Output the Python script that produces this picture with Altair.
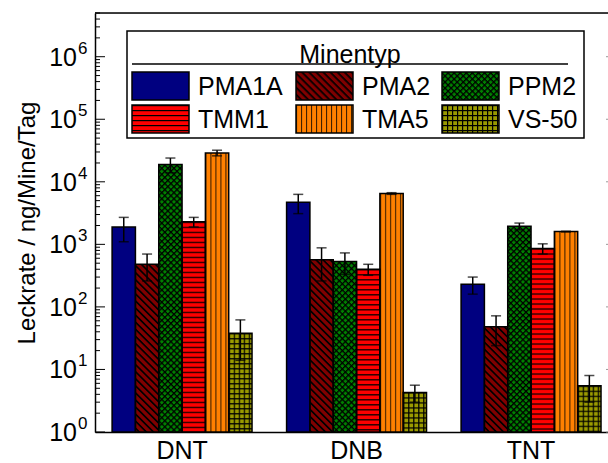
import base64
import altair as alt
import pandas as pd

# ---------------- data ----------------
CATEGORIES = ["DNT", "DNB", "TNT"]
TYPES = ["PMA1A", "PMA2", "PPM2", "TMM1", "TMA5", "VS-50"]

PMA1A = [1900, 4700, 230]
PMA2 = [480, 570, 48]
PPM2 = [19000, 530, 1950]
TMM1 = [2300, 400, 860]
TMA5 = [29000, 6500, 1600]
VS50 = [38, 4.3, 5.5]

PMA1A_ERR = [800, 1600, 70]
PMA2_ERR = [220, 310, 24]
PPM2_ERR = [5000, 200, 240]
TMM1_ERR = [400, 80, 160]
TMA5_ERR = [3000, 200, 20]
VS50_ERR = [24, 1.3, 2.5]

DECADES = [1, 10, 100, 1000, 10000, 100000, 1000000]
EXPONENTS = ["0", "1", "2", "3", "4", "5", "6"]
MINOR_TICKS = [m * d for d in DECADES for m in range(2, 10) if m * d <= 5e6]

VALUES = [PMA1A, PMA2, PPM2, TMM1, TMA5, VS50]
ERRORS = [PMA1A_ERR, PMA2_ERR, PPM2_ERR, TMM1_ERR, TMA5_ERR, VS50_ERR]

# ---------------- styles ----------------
FONT = "Liberation Sans"
BASE_COLORS = ["#000080", "#800000", "#008000", "#ff0000", "#ff8000", "#9a9a00"]


def pattern(base, w, h, rot, content):
    svg = (
        '<svg xmlns="http://www.w3.org/2000/svg" width="100%" height="100%">'
        f'<defs><pattern id="p" patternUnits="userSpaceOnUse" width="{w}" height="{h}" '
        f'patternTransform="rotate({rot})">{content}</pattern></defs>'
        f'<rect width="100%" height="100%" fill="{base}"/>'
        '<rect width="100%" height="100%" fill="url(#p)"/></svg>'
    )
    return "data:image/svg+xml;base64," + base64.b64encode(svg.encode()).decode()


PATTERNS = {
    "PMA1A": pattern("#000080", 10, 10, 0, ""),
    "PMA2": pattern("#800000", 5, 5, 45, '<rect x="0" y="0" width="5" height="1.7" fill="#000"/>'),
    "PPM2": pattern("#008000", 4.3, 4.3, 45,
                    '<rect x="0" y="0" width="4.3" height="1.3" fill="#000"/>'
                    '<rect x="0" y="0" width="1.3" height="4.3" fill="#000"/>'),
    "TMM1": pattern("#ff0000", 10, 5, 0, '<rect x="0" y="0" width="10" height="1.2" fill="#000"/>'),
    "TMA5": pattern("#ff8000", 5, 10, 0, '<rect x="0" y="0" width="1.1" height="10" fill="#000" fill-opacity="0.75"/>'),
    "VS-50": pattern("#9a9a00", 5, 5, 0,
                     '<rect x="0" y="0" width="5" height="1.2" fill="#000"/>'
                     '<rect x="0" y="0" width="1.2" height="5" fill="#000"/>'),
}

W, H = 513, 419

rows = []
for ti, t in enumerate(TYPES):
    for ci, c in enumerate(CATEGORIES):
        v, e = VALUES[ti][ci], ERRORS[ti][ci]
        rows.append({"cat": c, "type": t, "value": v, "lo": v - e, "hi": v + e,
                     "url": PATTERNS[t]})
df = pd.DataFrame(rows)

x_axis = alt.Axis(ticks=False, labelFontSize=25, labelFont=FONT, labelColor="black",
                  labelPadding=6, domainColor="black", domainWidth=1.5, labelAngle=0,
                  grid=False, title=None)
x_scale = alt.Scale(paddingInner=0.198, paddingOuter=0.069, align=0.71)
x_enc = alt.X("cat:N", sort=CATEGORIES, title=None, scale=x_scale, axis=x_axis)
xoff = alt.XOffset("type:N", sort=TYPES, scale=alt.Scale(paddingInner=0, paddingOuter=0))
yscale = alt.Scale(type="log", domain=[1, 5e6])
YTITLE = "Leckrate / ng/Mine/Tag"
y_axis = alt.Axis(ticks=False, labels=False, domainColor="black", domainWidth=1.5,
                  grid=False, titleFont=FONT, titleFontSize=24, titleFontWeight="normal",
                  titleColor="black", titleAngle=270, titleX=-68, titleY=H / 2,
                  titleAlign="center", titleBaseline="middle")


def yq(field):
    return alt.Y(f"{field}:Q", scale=yscale, title=YTITLE, axis=y_axis)


bars_base = alt.Chart(df).mark_bar().encode(
    x=x_enc, xOffset=xoff, y=yq("value"), y2=alt.datum(1),
    color=alt.Color("type:N", scale=alt.Scale(domain=TYPES, range=BASE_COLORS), legend=None),
)
bars_img = alt.Chart(df).mark_image(aspect=False).encode(
    x=x_enc, xOffset=xoff, y=yq("value"), y2=alt.datum(1), url="url:N",
)
bars_outline = alt.Chart(df).mark_bar(fillOpacity=0, stroke="black", strokeWidth=1.5).encode(
    x=x_enc, xOffset=xoff, y=yq("value"), y2=alt.datum(1),
)
err_rule = alt.Chart(df).mark_rule(color="black", strokeWidth=1.5).encode(
    x=x_enc, xOffset=xoff, y=yq("lo"), y2="hi:Q",
)
cap_lo = alt.Chart(df).mark_tick(color="black", thickness=1.5, size=10, orient="horizontal").encode(
    x=x_enc, xOffset=xoff, y=yq("lo"),
)
cap_hi = alt.Chart(df).mark_tick(color="black", thickness=1.5, size=10, orient="horizontal").encode(
    x=x_enc, xOffset=xoff, y=yq("hi"),
)

# axis ticks (inward) and labels 10^n
dec_df = pd.DataFrame({"v": DECADES, "exp": EXPONENTS})
minor_df = pd.DataFrame({"v": MINOR_TICKS})
major_ticks = alt.Chart(dec_df).mark_rule(color="black", strokeWidth=1).encode(
    y=yq("v"), x=alt.value(0), x2=alt.value(10))
minor_ticks = alt.Chart(minor_df).mark_rule(color="black", strokeWidth=1).encode(
    y=yq("v"), x=alt.value(0), x2=alt.value(5))
right_ticks = alt.Chart(dec_df).mark_rule(color="#999999", strokeWidth=1).encode(
    y=yq("v"), x=alt.value(W - 2), x2=alt.value(W))
ten_labels = alt.Chart(dec_df).mark_text(font=FONT, fontSize=25, align="right", baseline="middle",
                                         dy=1, color="black").encode(
    y=yq("v"), x=alt.value(-18), text=alt.value("10"))
exp_labels = alt.Chart(dec_df).mark_text(font=FONT, fontSize=17, align="left", baseline="alphabetic",
                                         dy=-3, color="black").encode(
    y=yq("v"), x=alt.value(-17), text="exp:N")

one = pd.DataFrame({"a": [0]})
top_line = alt.Chart(one).mark_rule(color="black", strokeWidth=1.5).encode(
    x=alt.value(0), x2=alt.value(W), y=alt.value(0))

# ---------------- legend ----------------
LEG_COL_X = [37, 201, 347]
LEG_ROW_Y = [59, 92]
SW_W, SW_H = 57, 28
leg_rows = []
for i, t in enumerate(TYPES):
    col, row = i % 3, i // 3
    lx = LEG_COL_X[col]
    ly = LEG_ROW_Y[row]
    leg_rows.append({"type": t, "lx": lx, "lx2": lx + SW_W, "ly": ly, "ly2": ly + SW_H,
                     "tx": lx + 66, "ty": ly + SW_H / 2, "url": PATTERNS[t]})
leg_df = pd.DataFrame(leg_rows)

leg_box = alt.Chart(one).mark_rect(fill="white", stroke="black", strokeWidth=1.5).encode(
    x=alt.value(32), x2=alt.value(489), y=alt.value(18), y2=alt.value(125))
leg_title = alt.Chart(one).mark_text(font=FONT, fontSize=25, align="center", baseline="middle",
                                     color="black").encode(
    x=alt.value(255), y=alt.value(42), text=alt.value("Minentyp"))
leg_line = alt.Chart(one).mark_rule(color="black", strokeWidth=1.5).encode(
    x=alt.value(37), x2=alt.value(473), y=alt.value(51))
leg_sw = alt.Chart(leg_df).mark_image(aspect=False).encode(
    x=alt.X("lx:Q", scale=None, axis=None), x2="lx2:Q",
    y=alt.Y("ly:Q", scale=None, axis=None), y2="ly2:Q", url="url:N")
leg_sw_out = alt.Chart(leg_df).mark_rect(fillOpacity=0, stroke="black", strokeWidth=1.5).encode(
    x=alt.X("lx:Q", scale=None, axis=None), x2="lx2:Q",
    y=alt.Y("ly:Q", scale=None, axis=None), y2="ly2:Q")
leg_text = alt.Chart(leg_df).mark_text(font=FONT, fontSize=25, align="left", baseline="middle",
                                       dy=1, color="black").encode(
    x=alt.X("tx:Q", scale=None, axis=None), y=alt.Y("ty:Q", scale=None, axis=None), text="type:N")

chart = alt.layer(
    bars_base, bars_img, bars_outline, err_rule, cap_lo, cap_hi,
    minor_ticks, major_ticks, right_ticks, ten_labels, exp_labels, top_line,
    leg_box, leg_title, leg_line, leg_sw, leg_sw_out, leg_text,
).properties(
    width=W, height=H,
    autosize=alt.AutoSizeParams(type="none"),
    padding={"left": 95, "top": 13, "right": 0, "bottom": 31},
).configure_view(stroke=None).configure(background="white")

chart.save("out.html", embed_options={"renderer": "svg", "actions": False})
